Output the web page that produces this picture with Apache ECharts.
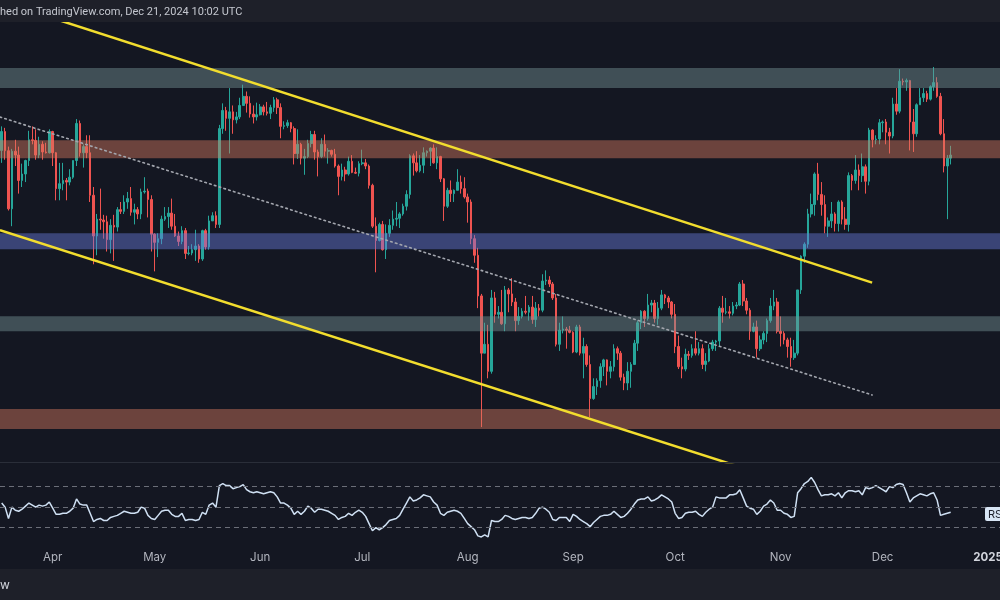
<!DOCTYPE html>
<html><head><meta charset="utf-8">
<script src="https://cdn.jsdelivr.net/npm/echarts/dist/echarts.min.js"></script>
<style>html,body{margin:0;padding:0;background:#141722;}#c{width:1000px;height:600px;}</style>
</head><body><div id="c"></div><script>
// ---------- DATA ----------
const startDate = '2024-03-17';
const dayCount = 294; // Mar 17 2024 .. Jan 4 2025 (visible range)
const monthLabels = ['2025','Feb','Mar','Apr','May','Jun','Jul','Aug','Sep','Oct','Nov','Dec'];

const opens = [
3520,3645,3518,3160,3515,3490,3330,3370,3455,3590,
3585,3490,3560,3510,3505,3645,3505,3280,3310,3330,
3320,3350,3455,3700,3505,3545,3505,3240,3005,3100,
3095,3085,2985,3065,3055,3155,3145,3200,3220,3140,
3155,3130,3260,3265,3215,3015,2970,2990,3100,3115,
3135,3060,3005,2975,3035,2910,2912,2930,2950,2880,
3035,2945,3090,3120,3070,3665,3790,3735,3780,3725,
3745,3825,3890,3840,3765,3745,3760,3815,3780,3770,
3810,3865,3810,3680,3685,3705,3665,3500,3560,3470,
3480,3565,3625,3510,3480,3560,3515,3520,3495,3420,
3355,3395,3370,3450,3380,3375,3435,3440,3420,3300,
3060,2980,3070,2930,3020,3065,3100,3105,3130,3175,
3245,3485,3440,3390,3425,3505,3515,3535,3440,3480,
3340,3175,3270,3250,3270,3320,3280,3230,3200,2990,
2900,2690,2420,2460,2340,2680,2600,2610,2555,2720,
2700,2660,2570,2590,2615,2610,2635,2575,2630,2620,
2765,2770,2750,2680,2460,2525,2530,2525,2515,2425,
2540,2420,2450,2370,2225,2275,2300,2360,2390,2340,
2360,2440,2420,2315,2290,2340,2370,2465,2560,2615,
2580,2645,2655,2580,2630,2695,2680,2660,2600,2450,
2360,2350,2415,2410,2440,2420,2440,2370,2385,2440,
2470,2475,2630,2610,2612,2605,2640,2645,2750,2665,
2620,2520,2540,2440,2480,2510,2570,2640,2660,2520,
2510,2480,2450,2400,2420,2720,2895,2960,3130,3185,
3370,3245,3185,3060,3090,3130,3075,3200,3100,3070,
3360,3330,3395,3360,3415,3325,3655,3590,3595,3705,
3710,3640,3615,3835,3785,4000,3995,4005,3710,3630,
3830,3880,3910,3870,3960,3990,3890,3630,3420,3470];

const highs = [
3680,3670,3545,3530,3590,3545,3435,3460,3650,3680,
3660,3610,3580,3570,3660,3650,3510,3440,3440,3345,
3400,3455,3730,3720,3560,3620,3620,3290,3130,3280,
3125,3120,3100,3125,3170,3200,3240,3260,3290,3190,
3170,3280,3350,3280,3240,3020,3020,3120,3170,3170,
3220,3130,3030,3060,3050,2950,2960,3040,2960,3040,
3045,3120,3140,3145,3690,3840,3815,3950,3825,3780,
3880,3975,3925,3890,3825,3845,3835,3830,3850,3830,
3885,3880,3840,3715,3725,3710,3680,3660,3570,3530,
3590,3650,3650,3525,3600,3625,3535,3525,3530,3430,
3435,3415,3480,3490,3410,3450,3525,3465,3430,3310,
3110,3080,3090,3070,3100,3150,3200,3140,3190,3270,
3495,3500,3515,3490,3540,3520,3540,3560,3540,3485,
3345,3285,3330,3275,3400,3360,3350,3250,3215,3010,
2940,2700,2560,2550,2720,2710,2640,2720,2740,2730,
2780,2680,2635,2630,2690,2645,2690,2660,2650,2800,
2820,2790,2760,2700,2560,2590,2540,2545,2520,2550,
2550,2490,2460,2410,2310,2310,2375,2395,2392,2385,
2460,2450,2430,2330,2380,2380,2480,2570,2620,2620,
2700,2670,2670,2660,2720,2700,2690,2665,2650,2500,
2400,2440,2430,2460,2520,2470,2460,2420,2460,2480,
2480,2640,2690,2680,2640,2660,2660,2760,2770,2680,
2630,2560,2570,2500,2520,2580,2680,2720,2680,2590,
2520,2490,2490,2480,2720,2900,2970,3160,3250,3380,
3440,3320,3240,3110,3200,3140,3210,3210,3170,3380,
3370,3490,3430,3500,3430,3670,3660,3620,3730,3720,
3730,3670,3880,3950,4090,4020,4020,4010,3800,3840,
3950,3950,3930,3970,4107,4030,3915,3730,3490,3550];

const lows = [
3440,3460,3150,3060,3420,3250,3290,3320,3420,3560,
3460,3470,3460,3500,3500,3420,3210,3210,3270,3210,
3300,3340,3420,3480,3410,3470,3200,2852,2900,3040,
2990,2920,2910,2870,3030,3130,3130,3160,3120,3070,
3100,3100,3250,3110,2920,2815,2890,2960,3090,3050,
3040,3000,2950,2960,2880,2900,2900,2870,2860,2870,
2930,2930,3090,3050,3050,3630,3650,3500,3630,3700,
3730,3825,3775,3740,3700,3720,3755,3755,3755,3730,
3780,3765,3600,3660,3670,3640,3430,3465,3430,3365,
3470,3540,3460,3355,3470,3480,3435,3480,3410,3240,
3330,3325,3360,3375,3370,3355,3425,3400,3280,3050,
2810,2975,2925,2880,3000,3040,3060,3050,3120,3150,
3220,3360,3380,3380,3375,3480,3420,3435,3400,3320,
3090,3165,3200,3200,3270,3250,3220,3080,2960,2860,
2630,2111,2420,2310,2330,2560,2580,2550,2520,2610,
2640,2520,2550,2580,2600,2570,2555,2540,2590,2610,
2745,2735,2670,2450,2430,2510,2440,2510,2420,2420,
2410,2310,2360,2150,2220,2240,2270,2320,2280,2310,
2340,2390,2300,2260,2260,2270,2370,2430,2530,2540,
2570,2610,2560,2550,2620,2650,2630,2580,2420,2350,
2310,2340,2390,2400,2410,2410,2350,2340,2380,2430,
2430,2450,2560,2600,2580,2595,2625,2640,2640,2600,
2480,2515,2400,2430,2460,2470,2560,2620,2510,2450,
2460,2400,2360,2390,2410,2700,2860,2940,3110,3120,
3210,3120,3020,3000,3050,3030,3030,3070,3040,3030,
3270,3310,3270,3320,3250,3300,3540,3560,3560,3640,
3560,3500,3600,3760,3770,3970,3930,3520,3510,3610,
3830,3850,3850,3860,3930,3880,3620,3380,3100,3430];

const closes = [
3645,3518,3160,3515,3490,3330,3370,3455,3590,3585,
3490,3560,3510,3505,3645,3505,3280,3310,3330,3320,
3350,3455,3700,3505,3545,3505,3240,3005,3100,3095,
3085,2985,3065,3055,3155,3145,3200,3220,3140,3155,
3130,3260,3265,3215,3015,2970,2990,3100,3115,3135,
3060,3005,2975,3035,2910,2912,2930,2950,2880,3035,
2945,3090,3120,3070,3665,3790,3735,3780,3725,3745,
3825,3890,3840,3765,3745,3760,3815,3780,3770,3810,
3865,3810,3680,3685,3705,3665,3500,3560,3470,3480,
3565,3625,3510,3480,3560,3515,3520,3495,3420,3355,
3395,3370,3450,3380,3375,3435,3440,3420,3300,3060,
2980,3070,2930,3020,3065,3100,3105,3130,3175,3245,
3485,3440,3390,3425,3505,3515,3535,3440,3480,3340,
3175,3270,3250,3270,3320,3280,3230,3200,2990,2900,
2690,2420,2460,2340,2680,2600,2610,2555,2720,2700,
2660,2570,2590,2615,2610,2635,2575,2630,2620,2765,
2770,2750,2680,2460,2525,2530,2525,2515,2425,2540,
2420,2450,2370,2225,2275,2300,2360,2390,2340,2360,
2440,2420,2315,2290,2340,2370,2465,2560,2615,2580,
2645,2655,2580,2630,2695,2680,2660,2600,2450,2360,
2350,2415,2410,2440,2420,2440,2370,2385,2440,2470,
2475,2630,2610,2612,2605,2640,2645,2750,2665,2620,
2520,2540,2440,2480,2510,2570,2640,2660,2520,2510,
2480,2450,2400,2420,2720,2895,2960,3130,3185,3370,
3245,3185,3060,3090,3130,3075,3200,3100,3070,3360,
3330,3395,3360,3415,3325,3655,3590,3595,3705,3710,
3640,3615,3835,3785,4000,3995,4005,3710,3630,3830,
3880,3910,3870,3960,3990,3890,3630,3420,3470,3490];

const rsi = [
54,50,39,50,47,46,48,51,54,52,
50,52,51,52,55,49,43,43,44,44,
46,49,58,53,52,52,44,36,38,39,
37,37,40,41,42,44,46,45,44,44,
45,50,49,42,39,38,42,46,47,47,
43,41,41,44,37,38,38,37,38,45,
43,52,54,50,71,73,71,71,68,69,
70,72,67,65,64,65,64,63,64,65,
64,60,54,54,52,49,43,46,43,46,
51,49,45,48,48,47,46,44,42,38,
40,41,44,42,45,47,45,41,34,27,
30,28,30,33,37,38,39,42,48,54,
60,56,57,59,62,61,60,55,52,44,
42,45,46,47,46,44,39,34,31,28,
22,21,23,21,37,36,36,38,42,41,
39,38,39,40,40,39,40,44,49,50,
48,45,38,37,40,40,40,36,43,41,
38,36,34,31,35,38,41,42,42,43,
46,43,40,41,44,48,53,57,58,58,
60,56,57,59,62,60,58,55,44,39,
40,44,45,45,46,43,41,45,48,50,
60,59,59,59,62,62,63,67,59,51,
49,48,43,46,51,53,57,54,47,47,
44,43,40,41,64,68,73,75,79,74,
67,61,62,62,63,61,64,59,64,66,
66,65,66,62,69,68,69,71,69,67,
65,70,69,72,73,72,64,55,59,61,
63,62,61,63,64,57,42,43,44,45];

// price zones [low, high]
const zoneLows  = [3950, 3470, 2933, 2520, 2103];
const zoneHighs = [4099, 3586, 3021, 2591, 2183];
// trend lines: [dayIndex, price] endpoints
const upperChannel = [[11.26, 4529], [255.9, 2757]];
const lowerChannel = [[-0.5, 3038], [222.96, 1938]];
const midDotted    = [[-0.5, 3744], [255.9, 2240]];
// RSI levels
const rsiLevels = [70, 50, 30];

// ---------- BUILD ----------
const dates = [];
const t0 = Date.parse(startDate + 'T00:00:00Z');
for (let i = 0; i < dayCount; i++) dates.push(new Date(t0 + i * 86400000).toISOString().slice(0, 10));
const candles = opens.map((o, i) => [o, closes[i], lows[i], highs[i]]);

const zoneColors = ['rgba(118,148,150,0.45)','rgba(214,122,96,0.45)','rgba(104,124,222,0.45)','rgba(118,148,150,0.45)','rgba(214,122,96,0.45)'];
const FONT = 'Inter, "Noto Sans", sans-serif';
const HFONT = 'Roboto, "Liberation Sans", sans-serif';

const chart = echarts.init(document.getElementById('c'), null, {renderer: 'canvas'});
chart.setOption({
  animation: false,
  backgroundColor: '#141722',
  grid: [
    {left: 0, right: 0, top: 22, height: 440, outerBoundsMode: 'none'},
    {left: 0, right: 0, top: 463, height: 77, outerBoundsMode: 'none'}
  ],
  xAxis: [
    {type: 'category', gridIndex: 0, data: dates, boundaryGap: true, show: false},
    {type: 'value', gridIndex: 0, min: -0.5, max: dayCount - 0.5, show: false, splitLine: {show: false}},
    {type: 'category', gridIndex: 1, data: dates, boundaryGap: true,
      axisLine: {show: false}, axisTick: {show: false}, splitLine: {show: false},
      axisLabel: {
        interval: (idx, v) => v.slice(8) === '01',
        formatter: v => { const m = +v.slice(5, 7) - 1; return m === 0 ? '{b|' + monthLabels[0] + '}' : monthLabels[m]; },
        margin: 12, color: '#b2b5be', fontSize: 11.5, fontFamily: FONT,
        rich: {b: {fontWeight: 'bold', color: '#d1d4dc', fontSize: 11.5, fontFamily: FONT}}
      }}
  ],
  yAxis: [
    {type: 'log', logBase: 10, gridIndex: 0, min: 1979, max: 4463, show: false, splitLine: {show: false}},
    {type: 'value', gridIndex: 1, min: 18, max: 93, show: false, splitLine: {show: false}}
  ],
  series: [
    {
      type: 'candlestick', xAxisIndex: 0, yAxisIndex: 0, data: candles, barWidth: '62%', z: 2,
      itemStyle: {color: '#26a69a', color0: '#ef5350', borderColor: '#26a69a', borderColor0: '#ef5350', borderWidth: 1},
      markArea: {
        silent: true, z: 3,
        data: zoneLows.map((lo, k) => [{yAxis: lo, itemStyle: {color: zoneColors[k]}}, {yAxis: zoneHighs[k]}])
      }
    },
    {type: 'line', xAxisIndex: 1, yAxisIndex: 0, data: midDotted, symbol: 'none', z: 5,
      lineStyle: {color: '#a3a6ae', width: 1.6, type: [1.6, 3.4], cap: 'round'}},
    {type: 'line', xAxisIndex: 1, yAxisIndex: 0, data: upperChannel, symbol: 'none', z: 6,
      lineStyle: {color: '#f2dd2e', width: 2.5}},
    {type: 'line', xAxisIndex: 1, yAxisIndex: 0, data: lowerChannel, symbol: 'none', z: 6,
      lineStyle: {color: '#f2dd2e', width: 2.5}},
    {type: 'line', xAxisIndex: 2, yAxisIndex: 1, data: rsi, symbol: 'none', showSymbol: false, z: 4,
      lineStyle: {color: '#cfe0f3', width: 1.5},
      markLine: {silent: true, symbol: 'none', label: {show: false},
        lineStyle: {color: '#6b6e78', width: 1, type: [5, 4]},
        data: rsiLevels.map(v => ({yAxis: v}))}}
  ],
  graphic: [
    {type: 'rect', shape: {x: 0, y: 0, width: 1000, height: 22}, style: {fill: '#1e2029'}, z: 20},
    {type: 'text', x: 0, y: 12, z: 21, style: {text: 'hed on TradingView.com, Dec 21, 2024 10:02 UTC', fill: '#c4c7cf', font: '11px ' + HFONT, verticalAlign: 'middle'}},
    {type: 'line', shape: {x1: 0, y1: 462.5, x2: 1000, y2: 462.5}, style: {stroke: '#2a2e39', lineWidth: 1}, z: 20},
    {type: 'rect', shape: {x: 0, y: 569, width: 1000, height: 31}, style: {fill: '#1e2029'}, z: 20},
    {type: 'text', x: 0, y: 585, z: 21, style: {text: 'w', fill: '#d1d4dc', font: '12px ' + FONT, verticalAlign: 'middle'}},
    {type: 'rect', shape: {x: 985, y: 507, width: 30, height: 14, r: 2}, style: {fill: '#d8e6f5'}, z: 20},
    {type: 'text', x: 988, y: 514.5, z: 21, style: {text: 'RSI', fill: '#1e222d', font: '11px ' + FONT, verticalAlign: 'middle'}}
  ]
});
</script></body></html>
